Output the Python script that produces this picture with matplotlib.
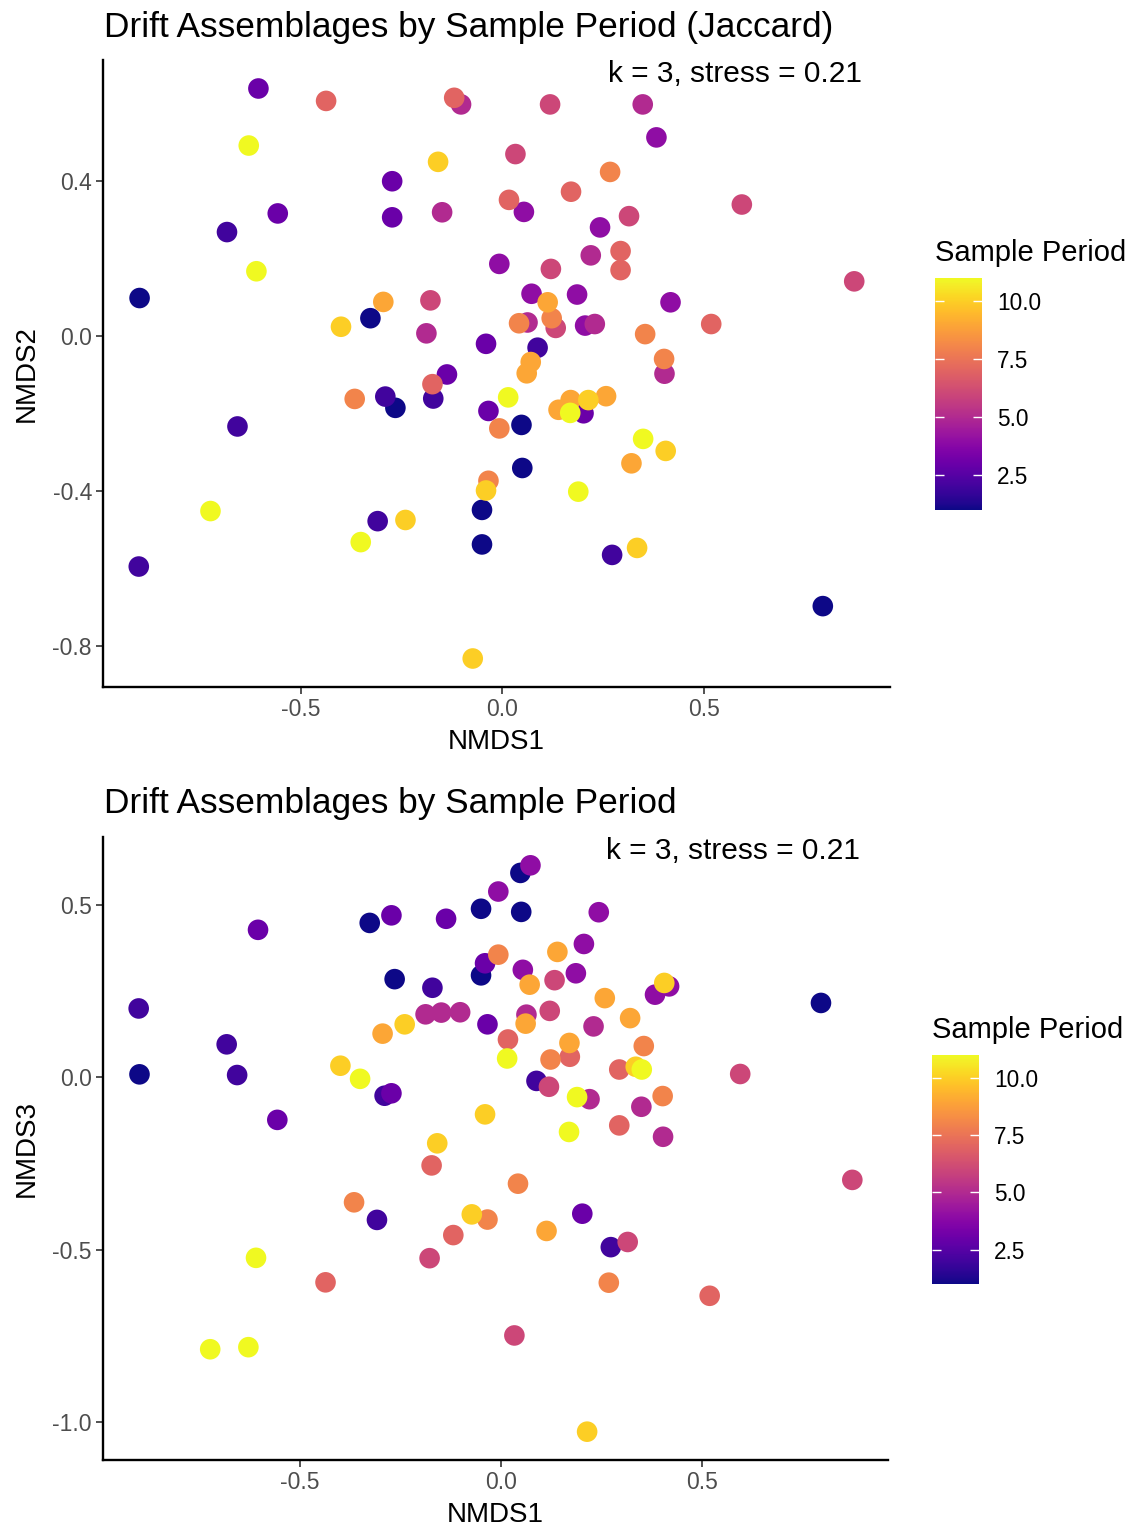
import numpy as np
import matplotlib
matplotlib.use("Agg")
import matplotlib.pyplot as plt
from matplotlib.ticker import FixedLocator, FormatStrFormatter

plt.rcParams['font.family'] = ['Liberation Sans', 'DejaVu Sans']
plt.rcParams['axes.unicode_minus'] = False

# sample period of each drift sample, sorted so later periods plot on top
period = [1, 1, 1, 1, 1, 1, 1, 1,
          2, 2, 2, 2, 2, 2, 2, 2,
          3, 3, 3, 3, 3, 3, 3, 3,
          4, 4, 4, 4, 4, 4, 4, 4,
          5, 5, 5, 5, 5, 5, 5, 5,
          6, 6, 6, 6, 6, 6, 6, 6,
          7, 7, 7, 7, 7, 7, 7, 7,
          8, 8, 8, 8, 8, 8, 8, 8,
          9, 9, 9, 9, 9, 9, 9, 9,
          10, 10, 10, 10, 10, 10, 10, 10,
          11, 11, 11, 11, 11, 11, 11, 11]

# NMDS site scores (k = 3)
nmds1 = [-0.900, -0.327, -0.265, -0.050, -0.050, 0.048, 0.050, 0.796,
         -0.683, 0.088, -0.290, -0.171, -0.657, -0.309, -0.902, 0.273,
         -0.605, -0.557, -0.273, -0.273, -0.040, -0.034, -0.137, 0.202,
         0.383, 0.054, 0.243, -0.007, 0.073, 0.186, 0.418, 0.206,
         -0.102, -0.149, -0.188, 0.349, 0.220, 0.063, 0.230, 0.403,
         -0.178, 0.119, 0.033, 0.595, 0.315, 0.121, 0.874, 0.133,
         -0.437, -0.119, 0.171, 0.017, 0.294, 0.294, 0.519, -0.173,
         0.268, 0.123, 0.042, 0.355, 0.402, -0.366, -0.007, -0.034,
         -0.295, 0.113, 0.071, 0.061, 0.140, 0.170, 0.258, 0.321,
         -0.159, -0.400, -0.040, -0.240, -0.073, 0.214, 0.406, 0.335,
         -0.629, -0.610, 0.015, -0.724, -0.351, 0.169, 0.350, 0.189]

nmds2 = [0.098, 0.046, -0.185, -0.448, -0.537, -0.229, -0.340, -0.696,
         0.268, -0.030, -0.156, -0.161, -0.233, -0.477, -0.594, -0.564,
         0.638, 0.316, 0.399, 0.306, -0.020, -0.193, -0.099, -0.199,
         0.512, 0.320, 0.280, 0.186, 0.109, 0.107, 0.087, 0.027,
         0.597, 0.319, 0.007, 0.597, 0.208, 0.035, 0.031, -0.097,
         0.092, 0.597, 0.469, 0.339, 0.309, 0.173, 0.141, 0.021,
         0.606, 0.614, 0.372, 0.351, 0.219, 0.170, 0.031, -0.124,
         0.423, 0.046, 0.033, 0.005, -0.059, -0.162, -0.238, -0.373,
         0.088, 0.087, -0.067, -0.096, -0.190, -0.165, -0.155, -0.328,
         0.449, 0.024, -0.398, -0.474, -0.831, -0.165, -0.296, -0.546,
         0.491, 0.167, -0.158, -0.451, -0.531, -0.198, -0.265, -0.401]

nmds3 = [0.008, 0.447, 0.284, 0.488, 0.295, 0.592, 0.479, 0.215,
         0.095, -0.011, -0.054, 0.259, 0.006, -0.414, 0.199, -0.493,
         0.427, -0.124, 0.469, -0.047, 0.330, 0.153, 0.459, -0.396,
         0.239, 0.311, 0.478, 0.538, 0.614, 0.301, 0.263, 0.386,
         0.188, 0.187, 0.182, -0.086, -0.064, 0.181, 0.147, -0.173,
         -0.525, -0.028, -0.749, 0.009, -0.478, 0.192, -0.298, 0.281,
         -0.595, -0.458, 0.059, 0.109, 0.022, -0.140, -0.634, -0.256,
         -0.596, 0.051, -0.309, 0.090, -0.055, -0.363, 0.355, -0.413,
         0.126, -0.446, 0.268, 0.155, 0.363, 0.099, 0.229, 0.171,
         -0.192, 0.033, -0.108, 0.153, -0.398, -1.028, 0.273, 0.030,
         -0.783, -0.524, 0.054, -0.789, -0.005, -0.159, 0.022, -0.058]

x_ticks = [-0.5, 0.0, 0.5]
y2_ticks = [-0.8, -0.4, 0.0, 0.4]
y3_ticks = [-1.0, -0.5, 0.0, 0.5]
cbar_ticks = [2.5, 5.0, 7.5, 10.0]
stress_label = "k = 3, stress = 0.21"

W, H = 1133, 1528
fig = plt.figure(figsize=(W / 100, H / 100), dpi=100)


def px_rect(left, top, right, bottom):
    # pixel box -> figure fraction rect
    return [left / W, 1 - bottom / H, (right - left) / W, (bottom - top) / H]


def nmds_panel(rect, cbar_rect, ydata, yticks, ylabel, title, title_y, legend_y, legend_x):
    ax = fig.add_axes(px_rect(*rect))
    sc = ax.scatter(nmds1, ydata, c=period, cmap='plasma', vmin=1, vmax=11,
                    s=220, linewidths=0)
    ax.margins(0.05)
    for side in ['top', 'right']:
        ax.spines[side].set_visible(False)
    for side in ['left', 'bottom']:
        ax.spines[side].set_linewidth(1.7)
        ax.spines[side].set_color('black')
    ax.xaxis.set_major_locator(FixedLocator(x_ticks))
    ax.yaxis.set_major_locator(FixedLocator(yticks))
    ax.xaxis.set_major_formatter(FormatStrFormatter('%.1f'))
    ax.yaxis.set_major_formatter(FormatStrFormatter('%.1f'))
    ax.tick_params(length=5, width=1.2, color='#333333', labelcolor='#4d4d4d',
                   labelsize=16.5, pad=3)
    ax.set_xlabel('NMDS1', fontsize=20, labelpad=6)
    ax.set_ylabel(ylabel, fontsize=20, labelpad=9)
    ax.text(0.964, 0.977, stress_label, transform=ax.transAxes, ha='right',
            va='center', fontsize=21.5, color='black')
    fig.text(104 / W, 1 - title_y / H, title, ha='left', va='center',
             fontsize=25.4, color='black')

    cax = fig.add_axes(px_rect(*cbar_rect))
    cb = fig.colorbar(sc, cax=cax)
    cb.outline.set_visible(False)
    cb.set_ticks(cbar_ticks)
    cb.ax.yaxis.set_major_formatter(FormatStrFormatter('%.1f'))
    cb.ax.yaxis.set_ticks_position('both')
    cb.ax.tick_params(direction='in', length=6.5, width=1, color='white',
                      labelsize=16.3, labelcolor='black', pad=11,
                      left=True, right=True, labelleft=False, labelright=True)
    fig.text(legend_x / W, 1 - legend_y / H, 'Sample Period', ha='left',
             va='center', fontsize=21, color='black')
    return ax


nmds_panel((103, 60, 890, 687), (935, 278, 982, 510), nmds2, y2_ticks, 'NMDS2',
           'Drift Assemblages by Sample Period (Jaccard)', 27, 253, 935)
nmds_panel((103, 837, 888, 1460), (932, 1055, 979, 1284), nmds3, y3_ticks, 'NMDS3',
           'Drift Assemblages by Sample Period', 804, 1030, 932)

fig.savefig('out.png', dpi=100, facecolor='white')
